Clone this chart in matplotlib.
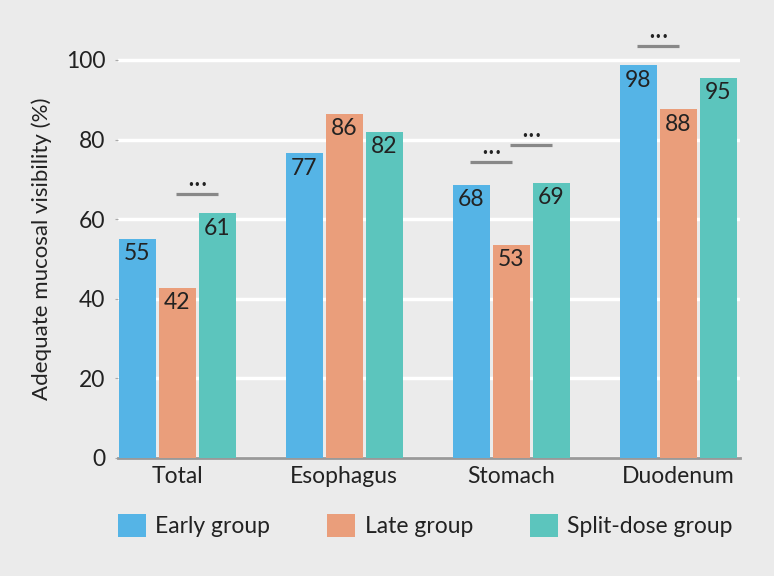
import matplotlib
matplotlib.use("Agg")
import matplotlib.pyplot as plt
import numpy as np
from matplotlib.patches import Patch

plt.rcParams['font.family'] = ['Lato', 'DejaVu Sans']

categories = ["Total", "Esophagus", "Stomach", "Duodenum"]
series_names = ["Early group", "Late group", "Split-dose group"]
early = [55.0, 76.6, 68.6, 98.7]
late = [42.7, 86.4, 53.5, 87.6]
split = [61.5, 81.9, 69.1, 95.5]
early_lbl = [55, 77, 68, 98]
late_lbl = [42, 86, 53, 88]
split_lbl = [61, 82, 69, 95]
yticks = [0, 20, 40, 60, 80, 100]
# significance: (category index, series a, series b, height)
sig = [(0, 1, 2, 66.3), (2, 0, 1, 74.4), (2, 1, 2, 78.6), (3, 0, 1, 103.5)]

colors = ["#55b4e6", "#ea9e7b", "#5cc5bd"]
bg = "#ebebeb"
txt = "#222222"
fs = 16.5

fig = plt.figure(figsize=(7.74, 5.76), dpi=100, facecolor=bg)
ax = fig.add_axes([118/774, 118/576, 622/774, 418/576])
ax.set_facecolor(bg)

x = np.arange(len(categories))
w = 0.22
step = 0.24
offsets = [-step, 0, step]
values = [early, late, split]
labels = [early_lbl, late_lbl, split_lbl]
for s in range(3):
    ax.bar(x + offsets[s], values[s], width=w, color=colors[s], zorder=3)
    for xi, v, lb in zip(x, values[s], labels[s]):
        ax.annotate(str(lb), (xi + offsets[s], v), xytext=(0, -3.2), textcoords='offset points',
                    ha='center', va='top', fontsize=fs, color=txt, zorder=4)

for ci, a, b, h in sig:
    xa = ci + offsets[a]
    xb = ci + offsets[b]
    mid = (xa + xb) / 2
    ax.plot([mid - 0.125, mid + 0.125], [h, h], color="#888888", lw=2.3,
            solid_capstyle='butt', zorder=4)
    ax.text(mid, h + 2.1, "•••", ha='center', va='center', fontsize=8.5,
            family='DejaVu Sans', color=txt)

ax.set_xlim(-0.355, 3.37)
ax.set_ylim(0, 105)
ax.set_yticks(yticks)
ax.set_yticklabels([str(t) for t in yticks], fontsize=fs, color=txt)
ax.yaxis.grid(True, color='white', lw=2.5, zorder=0)
ax.set_axisbelow(True)
ax.set_xticks(x)
ax.set_xticklabels(categories, fontsize=fs, color=txt)
ax.tick_params(axis='x', length=0, pad=6)
ax.tick_params(axis='y', length=2, color='#aaaaaa', pad=7)
for sp in ['top', 'right', 'left']:
    ax.spines[sp].set_visible(False)
ax.spines['bottom'].set_color('#999999')
ax.spines['bottom'].set_linewidth(2)
ax.set_ylabel("Adequate mucosal visibility (%)", fontsize=16, color=txt, labelpad=10)

handles = [Patch(facecolor=c, edgecolor='none') for c in colors]
fig.legend(handles, series_names, loc='center left', bbox_to_anchor=(118/774, 1 - 525.5/576),
           ncol=3, frameon=False, fontsize=fs, handlelength=1.22, handleheight=1.17,
           columnspacing=2.5, handletextpad=0.4, borderpad=0, borderaxespad=0,
           labelcolor=txt)

fig.savefig("out.png", dpi=100, facecolor=bg)
